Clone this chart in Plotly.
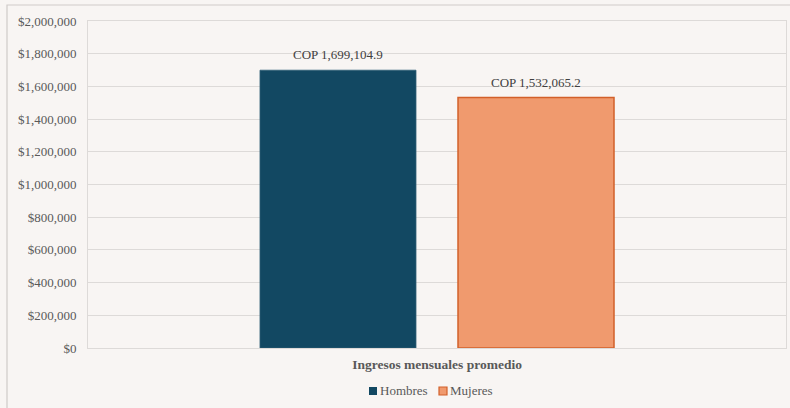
import plotly.graph_objects as go

categories = ["Ingresos mensuales promedio"]
series_names = ["Hombres", "Mujeres"]
hombres = [1699104.9]
mujeres = [1532065.2]
y_ticks = [0, 200000, 400000, 600000, 800000, 1000000, 1200000, 1400000, 1600000, 1800000, 2000000]

FONT = "Liberation Serif"
BG = "#F8F5F3"
GRID = "#DDDAD8"

# plot-area pixel geometry (for converting legend positions to paper coords)
PL, PW, PB, PH = 88, 698, 348, 327
def px(x):
    return (x - PL) / PW
def py(y):
    return (PB - y) / PH

bar_w = 0.2235
offsets = [-0.2536, 0.0301]
fills = ["#124862", "#F09A6E"]
lines = ["#2E5E75", "#D2602A"]
line_w = [0.8, 1.5]
legend_sq_x = [369, 439]
legend_tx_x = [378, 448]
values = [hombres, mujeres]

fig = go.Figure()
for i, (name, vals, off, fc, lc) in enumerate(zip(series_names, values, offsets, fills, lines)):
    fig.add_trace(go.Bar(
        name=name, x=categories, y=vals, width=bar_w, offset=off,
        marker=dict(color=fc, line=dict(color=lc, width=line_w[i])),
        showlegend=False,
    ))
    for c, v in zip(categories, vals):
        fig.add_annotation(
            x=off + bar_w / 2, y=v, xref="x", yref="y",
            text="COP " + f"{v:,.1f}", showarrow=False,
            yanchor="bottom", yshift=6,
            font=dict(family=FONT, size=13, color="#404040"),
        )
    # custom legend entry
    sx = legend_sq_x[i]
    fig.add_shape(type="rect", xref="paper", yref="paper",
                  x0=px(sx), x1=px(sx + 8), y0=py(395), y1=py(387),
                  fillcolor=fc, line=dict(color=lc, width=1.2 if i else 0))
    fig.add_annotation(x=px(legend_tx_x[i]), y=py(390.5), xref="paper", yref="paper",
                       text=name, showarrow=False, xanchor="left", yanchor="middle",
                       font=dict(family=FONT, size=13, color="#595959"))

fig.update_layout(
    width=790, height=408,
    margin=dict(l=88, r=4, t=21, b=60, autoexpand=False),
    paper_bgcolor=BG, plot_bgcolor=BG,
    font=dict(family=FONT, size=13, color="#595959"),
    showlegend=False,
    barmode="overlay",
    xaxis=dict(type="category", range=[-0.5, 0.5], showgrid=False, automargin=False,
               tickvals=categories, ticktext=["<b>" + c + "</b>" for c in categories],
               tickfont=dict(family=FONT, size=13.5, color="#595959"),
               showline=True, linecolor=GRID, linewidth=1, mirror=True,
               ticks="", ticklabelstandoff=4),
    yaxis=dict(range=[0, 2000000], tickvals=y_ticks,
               ticktext=["$" + f"{v:,}" for v in y_ticks], automargin=False,
               showgrid=True, gridcolor=GRID, gridwidth=1,
               showline=True, linecolor=GRID, linewidth=1, mirror=True,
               tickfont=dict(family=FONT, size=13, color="#595959"),
               ticks="", ticklabelstandoff=8, zeroline=False),
)

# outer chart border
fig.add_shape(type="rect", xref="paper", yref="paper",
              x0=px(7), x1=px(800), y0=py(412), y1=py(5),
              line=dict(color="#CFCBC9", width=1.2), fillcolor="rgba(0,0,0,0)", layer="below")

fig.write_html("out.html", config={"displayModeBar": False},
               post_script="document.body.style.margin='0';document.body.style.background='#F8F5F3';")
